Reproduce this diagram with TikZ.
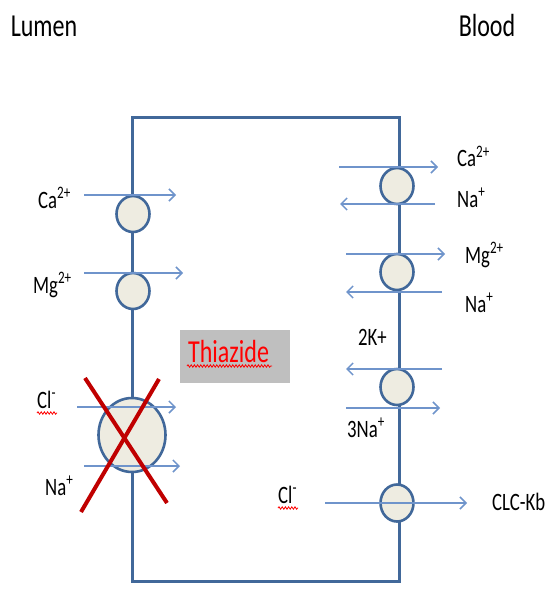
\documentclass[tikz,border=0pt]{standalone}
\usepackage{fontspec}
\setmainfont{Carlito}[FakeStretch=0.75]
\usetikzlibrary{arrows.meta, shapes.geometric, decorations.pathmorphing}
\definecolor{Memb}  {HTML}{41689A}
\definecolor{MembF} {HTML}{EEECE1}
\definecolor{Flow}  {HTML}{6F94CB}
\definecolor{Cross} {HTML}{C00000}
\definecolor{Drug}  {HTML}{FF0000}
\definecolor{DrugF} {HTML}{BFBFBF}
\tikzset{
  chan/.style args={#1/#2}{
    ellipse, draw=Memb, fill=MembF,
    line width=2.6pt, inner sep=0pt,
    minimum width=#1pt, minimum height=#2pt,
  },
  flow/.style={
    -{Straight Barb[length=6pt,width=12pt]},
    line width=1.5pt, color=Flow,
  },
  ion/.style={
    font=\fontsize{25}{25}\selectfont,
    anchor=base west, inner sep=0pt,
  },
  side/.style={
    font=\fontsize{32}{32}\selectfont, inner sep=0pt,
  },
  squig/.style={
    draw=Drug, line width=0.8pt, decorate,
    decoration={snake, amplitude=1.2pt, segment length=3.2pt},
  },
}
\begin{document}
\begin{tikzpicture}[x=1pt,y=-1pt]
  \useasboundingbox (0,0) rectangle (558,596);

    % cell outline
    \draw[Memb, line width=3pt] (132,118) rectangle (399,581);
    \node[side] (lumen) at (44,26) {Lumen};
    \node[side] (blood) at (487,26) {Blood};

    % transporters
    \foreach \nm/\x/\y/\w/\h in {caL/133/214/33/36, mgL/133/291/33/36,
                                 nccL/132/435/67/74, caR/397/186/33/36,
                                 mgR/397/272/33/36, pmpR/397/387/33/36,
                                 clcR/397/503/33/37}{
      \node[chan=\w/\h] (\nm) at (\x,\y) {};
    }

    % ion flows
    \foreach \i/\xa/\xb/\y in {1/84/176/195, 2/84/183/273, 3/77/176/407,
                               4/84/180/466, 5/339/438/167, 6/435/340/204,
                               7/346/445/254, 8/442/346/292, 9/442/346/369,
                               10/346/440/408, 11/325/467/503}{
      \coordinate (f\i a) at (\xa,\y);
      \coordinate (f\i b) at (\xb,\y);
      \draw[flow] (f\i a) -- (f\i b);
    }

    \node[ion] (caLt)  at (38,208)  {Ca\textsuperscript{2+}};
    \node[ion] (mgLt)  at (33,293)  {Mg\textsuperscript{2+}};
    \node[ion] (clLt)  at (37,408)  {Cl\textsuperscript{-}};
    \node[ion] (naLt)  at (45,495)  {Na\textsuperscript{+}};
    \node[ion] (caRt)  at (457,167) {Ca\textsuperscript{2+}};
    \node[ion] (naRt)  at (457,207) {Na\textsuperscript{+}};
    \node[ion] (mgRt)  at (465,263) {Mg\textsuperscript{2+}};
    \node[ion] (na2Rt) at (465,312) {Na\textsuperscript{+}};
    \node[ion] (kRt)   at (358,345) {2K+};
    \node[ion] (na3Rt) at (347,437) {3Na\textsuperscript{+}};
    \node[ion] (clRt)  at (278,503) {Cl\textsuperscript{-}};
    \node[ion] (clcRt) at (492,510) {CLC-Kb};

    % drug
    \node[fill=DrugF, minimum width=110pt, minimum height=53pt] (thzbox) at (235,356.5) {};
    \node[ion, text=Drug, font=\fontsize{32}{32}\selectfont] (thz) at (188,362) {Thiazide};

    \coordinate (sq1a) at (187,366); \coordinate (sq1b) at (272,366);
    \coordinate (sq2a) at (37,413);  \coordinate (sq2b) at (57,413);
    \coordinate (sq3a) at (278,508); \coordinate (sq3b) at (298,508);
    \foreach \i in {1,2,3}{
      \draw[squig] (sq\i a) -- (sq\i b);
    }

    % block of the co-transporter
    \coordinate (xa) at (85,378);  \coordinate (xb) at (167,503);
    \coordinate (xc) at (159,379); \coordinate (xd) at (81,512);
    \draw[Cross, line width=4pt] (xa) -- (xb);
    \draw[Cross, line width=4pt] (xc) -- (xd);

  \end{tikzpicture}
\end{document}
